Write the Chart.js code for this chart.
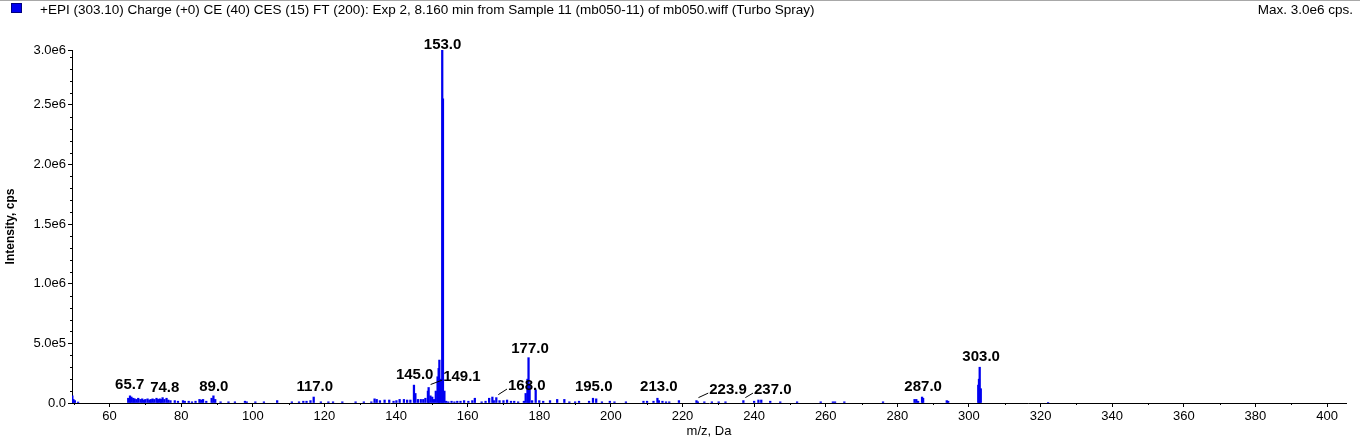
<!DOCTYPE html>
<html>
<head>
<meta charset="utf-8">
<script src="https://cdn.jsdelivr.net/npm/chart.js@4.4.1/dist/chart.umd.min.js"></script>
<style>
html, body { margin: 0; padding: 0; background: #fff; }
#wrap { width: 1360px; height: 439px; position: relative; }
</style>
</head>
<body>
<div id="wrap"><canvas id="spectrumChart"></canvas></div>
<script>
// spectrum header
const seriesTitle = '+EPI (303.10) Charge (+0) CE (40) CES (15) FT (200): Exp 2, 8.160 min from Sample 11 (mb050-11) of mb050.wiff (Turbo Spray)';
const maxText = 'Max. 3.0e6 cps.';

// centroid peaks: m/z and intensity (cps)
const mzValues = [
    49.6, 49.9, 50.3, 51.2,
    65.2, 65.7, 66.1, 66.6, 67.0, 67.5, 68.0, 68.6, 69.1, 69.6, 70.0, 70.6, 71.1, 71.5, 72.0, 72.5, 73.1, 73.5, 74.0, 74.4, 74.8, 75.3, 75.9, 76.4, 77.0,
    78.2, 79.1, 80.5, 81.0, 82.1, 83.0, 84.0, 85.1, 85.6, 86.1, 87.0, 88.5, 89.0, 89.5,
    91.0, 93.2, 95.0, 97.8, 98.3, 100.7, 103.1, 106.8, 110.9, 112.9, 114.1, 115.0, 116.1, 117.0, 119.0, 121.1, 122.4, 125.0, 128.7, 131.0, 133.1,
    134.0, 134.6, 135.5, 136.8, 138.1, 139.3, 140.1, 141.0, 142.2, 143.1, 144.0, 145.0, 145.4, 146.1, 146.9, 147.6, 148.2,
    148.9, 149.1, 149.6, 150.1, 150.6, 151.1, 151.6, 151.9, 152.1, 152.5, 152.9, 153.1, 153.5,
    154.0, 154.6, 155.5, 156.3, 157.1, 158.0, 159.0, 160.2, 161.3, 162.0, 163.9, 165.0, 166.0, 166.9, 167.3, 168.0, 168.9,
    170.0, 171.0, 172.1, 173.0, 174.1, 175.7, 176.2, 176.7, 177.0, 177.3, 178.0, 179.0, 180.0, 181.1, 183.0, 185.0, 187.0, 188.4,
    190.0, 191.1, 193.9, 195.0, 195.9, 197.5, 199.7, 201.0, 204.2, 209.1, 210.1, 211.9, 213.0, 213.4, 214.4, 215.4, 216.3, 219.0,
    223.9, 224.3, 226.1, 228.2, 230.1, 232.0, 237.0, 240.0, 241.2, 242.0, 244.5, 247.3, 252.0, 258.6, 262.0, 262.6, 265.2, 276.0,
    284.8, 285.3, 285.8, 286.9, 287.2, 293.8, 294.2, 302.6, 302.8, 303.0, 303.3, 322.1
];
const intensities = [
    6e4, 3e4, 2e4, 8e3,
    4e4, 6e4, 5e4, 4e4, 3.5e4, 3e4, 4e4, 3e4, 3.5e4, 2.5e4, 3e4, 3.5e4, 2.5e4, 3e4, 3.5e4, 3e4, 4e4, 3e4, 3.5e4, 3e4, 4.5e4, 3e4, 4e4, 2.5e4, 2e4,
    2e4, 1.5e4, 2e4, 1.5e4, 1.5e4, 1e4, 1.5e4, 3e4, 2.5e4, 3e4, 1.5e4, 4e4, 6e4, 3e4,
    1e4, 1e4, 1e4, 1.5e4, 1e4, 1e4, 1e4, 2e4, 1e4, 1e4, 1.5e4, 1.5e4, 2e4, 5e4, 1e4, 1e4, 1e4, 1e4, 1e4, 1e4, 1e4,
    3.5e4, 3e4, 2e4, 2.5e4, 2.5e4, 1.5e4, 2e4, 3e4, 3e4, 2.5e4, 2.5e4, 1.5e5, 8e4, 3e4, 3e4, 3e4, 4e4,
    1.0e5, 1.3e5, 6e4, 5e4, 3e4, 1.0e5, 2.2e5, 2.9e5, 3.6e5, 2.0e5, 2.96e6, 2.55e6, 1.0e5,
    1.5e4, 1e4, 1.5e4, 1e4, 1.5e4, 1.5e4, 2e4, 1.5e4, 2e4, 4e4, 1e4, 1.5e4, 4e4, 5e4, 2e4, 4.5e4, 2e4,
    2e4, 2.5e4, 1.5e4, 1.5e4, 1e4, 1.5e4, 8e4, 2.0e5, 3.8e5, 1.5e5, 2e4, 1.1e5, 2e4, 1.5e4, 2e4, 3e4, 3e4, 1e4,
    1e4, 1.5e4, 1.5e4, 4e4, 3.5e4, 1e4, 1.5e4, 1e4, 1e4, 1.5e4, 1.5e4, 1.5e4, 4e4, 2e4, 1.5e4, 1e4, 1e4, 2e4,
    2e4, 1e4, 1e4, 1e4, 1e4, 1e4, 2e4, 1.5e4, 2.5e4, 2.5e4, 1.5e4, 1e4, 1e4, 1e4, 1e4, 1e4, 1e4, 1e4,
    3e4, 3e4, 1.5e4, 5e4, 4e4, 2e4, 1.5e4, 1.5e5, 2.0e5, 3.0e5, 1.2e5, 5e3
];

// labelled peaks
const labelledMz = [65.7, 74.8, 89.0, 117.0, 145.0, 149.1, 153.0, 168.0, 177.0, 195.0, 213.0, 223.9, 237.0, 287.0, 303.0];
// where each label text sits (data units), and whether a leader line is drawn
const labelX = [65.6, 75.4, 89.1, 117.3, 145.2, 158.4, 153.0, 176.5, 177.4, 195.2, 213.4, 232.7, 245.2, 287.2, 303.4];
const labelY = [1.5e5, 1.25e5, 1.33e5, 1.33e5, 2.33e5, 2.17e5, 3.0e6, 1.42e5, 4.58e5, 1.33e5, 1.33e5, 1.08e5, 1.08e5, 1.33e5, 3.83e5];
const labelLeader = [false, false, false, false, false, true, false, true, false, false, false, true, true, false, false];

// axes
const xMin = 49.5;
const xMax = 405.3;
const xTickValues = [60, 80, 100, 120, 140, 160, 180, 200, 220, 240, 260, 280, 300, 320, 340, 360, 380, 400];
const yMax = 2.96e6;
const yTickValues = [0, 5e5, 1e6, 1.5e6, 2e6, 2.5e6, yMax];

const FONT = 'Arial, "Liberation Sans", sans-serif';
const BLUE = '#0000f0';

function fmtIntensity(v) {
    if (v === 0) return '0.0';
    return v.toExponential(1).replace('e+', 'e');
}

function peakHeight(mz) {
    let best = 0, d = Infinity;
    mzValues.forEach((m, i) => {
        if (Math.abs(m - mz) < d) { d = Math.abs(m - mz); best = intensities[i]; }
    });
    return best;
}

const decorPlugin = {
    id: 'spectrumDecor',
    afterDraw(chart) {
        const ctx = chart.ctx;
        const xs = chart.scales.x;
        const ys = chart.scales.y;
        const area = chart.chartArea;
        ctx.save();

        // top border line
        ctx.strokeStyle = '#a8a8a8';
        ctx.lineWidth = 1;
        ctx.beginPath();
        ctx.moveTo(0, 0.5);
        ctx.lineTo(chart.width, 0.5);
        ctx.stroke();

        // legend box + header texts
        ctx.fillStyle = BLUE;
        ctx.fillRect(11, 3, 11, 10);
        ctx.strokeStyle = '#000080';
        ctx.strokeRect(11.5, 3.5, 10, 9);
        ctx.fillStyle = '#000';
        ctx.font = '13.5px ' + FONT;
        ctx.textBaseline = 'middle';
        ctx.textAlign = 'left';
        ctx.fillText(seriesTitle, 40, 10);
        ctx.textAlign = 'right';
        ctx.fillText(maxText, 1353, 10);

        // minor ticks
        ctx.strokeStyle = '#000';
        ctx.beginPath();
        for (let v = 1e5; v < yMax; v += 1e5) {
            if (Math.round(v / 1e5) % 5 === 0) continue;
            const py = Math.round(ys.getPixelForValue(v)) + 0.5;
            ctx.moveTo(area.left - 2, py);
            ctx.lineTo(area.left, py);
        }
        for (let v = 50; v <= xMax; v += 20) {
            const px = Math.round(xs.getPixelForValue(v)) + 0.5;
            ctx.moveTo(px, area.bottom);
            ctx.lineTo(px, area.bottom + 2);
        }
        ctx.stroke();

        // peak labels
        ctx.font = 'bold 15px ' + FONT;
        ctx.textAlign = 'center';
        ctx.textBaseline = 'middle';
        labelledMz.forEach((mz, i) => {
            const text = mz.toFixed(1);
            const cx = xs.getPixelForValue(labelX[i]);
            const cy = ys.getPixelForValue(labelY[i]);
            ctx.fillStyle = '#000';
            ctx.fillText(text, cx, cy);
            if (labelLeader[i]) {
                const w = ctx.measureText(text).width;
                const px = xs.getPixelForValue(mz);
                const py = ys.getPixelForValue(peakHeight(mz));
                ctx.beginPath();
                ctx.lineWidth = 1;
                ctx.moveTo(px + 2, py - 3);
                ctx.lineTo(cx - w / 2 - 1, cy + 3);
                ctx.stroke();
            }
        });
        ctx.restore();
    }
};

new Chart(document.getElementById('spectrumChart'), {
    type: 'bar',
    data: {
        datasets: [{
            label: seriesTitle,
            data: mzValues.map((m, i) => ({ x: m, y: intensities[i] })),
            backgroundColor: BLUE,
            borderWidth: 0,
            barThickness: 1.6
        }]
    },
    options: {
        responsive: true,
        maintainAspectRatio: false,
        animation: false,
        layout: { padding: { top: 50, right: 14, bottom: 0, left: 0 } },
        plugins: {
            legend: { display: false },
            tooltip: { enabled: false }
        },
        scales: {
            x: {
                type: 'linear',
                min: xMin,
                max: xMax,
                offset: false,
                afterBuildTicks: s => { s.ticks = xTickValues.map(v => ({ value: v })); },
                afterFit: s => { s.height = 36; },
                border: { color: '#000', width: 1 },
                grid: { drawOnChartArea: false, drawTicks: true, tickLength: 4, color: '#000', offset: false },
                ticks: {
                    color: '#000', font: { size: 13, family: FONT }, padding: 2,
                    maxRotation: 0, autoSkip: false,
                    callback: v => String(v)
                },
                title: {
                    display: true, text: 'm/z, Da', color: '#000',
                    font: { size: 13, family: FONT }, padding: { top: 0, bottom: 0 }
                }
            },
            y: {
                min: 0,
                max: yMax,
                afterBuildTicks: s => { s.ticks = yTickValues.map(v => ({ value: v })); },
                afterFit: s => { s.width = 72; },
                border: { color: '#000', width: 1 },
                grid: { drawOnChartArea: false, drawTicks: true, tickLength: 4, color: '#000' },
                ticks: {
                    color: '#000', font: { size: 13, family: FONT }, padding: 2,
                    callback: v => fmtIntensity(v)
                },
                title: {
                    display: true, text: 'Intensity, cps', color: '#000',
                    font: { size: 12, weight: 'bold', family: FONT }, padding: { top: 3, bottom: 0 }
                }
            }
        }
    },
    plugins: [decorPlugin]
});
</script>
</body>
</html>
